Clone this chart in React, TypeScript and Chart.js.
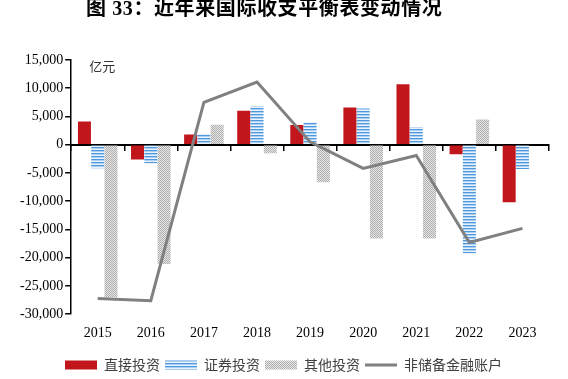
import React, { useEffect, useRef } from 'react';
import { Chart, registerables } from 'chart.js';

Chart.register(...registerables);

const categories = ['2015', '2016', '2017', '2018', '2019', '2020', '2021', '2022', '2023'];
const directInvestment = [4100, -2600, 1800, 6000, 3500, 6600, 10700, -1700, -10200];
const portfolioInvestment = [-4150, -3300, 1900, 6800, 4000, 6400, 3100, -19200, -4300];
const otherInvestment: (number | null)[] = [-27000, -21100, 3550, -1500, -6650, -16600, -16600, 4450, null];
const nonReserveAccount = [-27200, -27600, 7500, 11100, 500, -4200, -1900, -17300, -14800];
const seriesNames = ['直接投资', '证券投资', '其他投资', '非储备金融账户'];
const yMin = -30000;
const yMax = 15000;
const yStep = 5000;
const titleText = '图 33：近年来国际收支平衡表变动情况';
const unitText = '亿元';

function makeStripePattern(): CanvasPattern | string {
  const c = document.createElement('canvas');
  c.width = 4;
  c.height = 3;
  const g = c.getContext('2d');
  if (!g) return '#8fbde9';
  g.fillStyle = '#e8f2fb';
  g.fillRect(0, 0, 4, 3);
  g.fillStyle = '#4f98de';
  g.fillRect(0, 0, 4, 1);
  g.fillStyle = '#acd0f1';
  g.fillRect(0, 1, 4, 1);
  return g.createPattern(c, 'repeat') || '#8fbde9';
}

function makeHatchPattern(): CanvasPattern | string {
  const c = document.createElement('canvas');
  c.width = 2;
  c.height = 2;
  const g = c.getContext('2d');
  if (!g) return '#cccccc';
  g.fillStyle = '#e6e6e6';
  g.fillRect(0, 0, 2, 2);
  g.fillStyle = '#afafaf';
  g.fillRect(0, 0, 1, 1);
  g.fillRect(1, 1, 1, 1);
  return g.createPattern(c, 'repeat') || '#cccccc';
}

const unitPlugin = {
  id: 'unitLabel',
  afterDraw(chart: any) {
    const { ctx, chartArea } = chart;
    ctx.save();
    ctx.font = '13px "Noto Sans CJK SC"';
    ctx.fillStyle = '#333333';
    ctx.textBaseline = 'middle';
    ctx.textAlign = 'left';
    ctx.fillText(unitText, chartArea.left + 18, chartArea.top + 6);
    ctx.restore();
  },
};

export default function App() {
  const canvasRef = useRef<HTMLCanvasElement>(null);

  useEffect(() => {
    if (!canvasRef.current) return;
    const stripe = makeStripePattern();
    const hatch = makeHatchPattern();
    const tickFont = { family: '"Liberation Serif", "Times New Roman", serif', size: 14 };
    const chart = new Chart(canvasRef.current, {
      type: 'bar',
      data: {
        labels: categories,
        datasets: [
          {
            label: seriesNames[0],
            data: directInvestment,
            backgroundColor: '#c0161c',
            categoryPercentage: 0.75,
            barPercentage: 0.98,
            order: 1,
          },
          {
            label: seriesNames[1],
            data: portfolioInvestment,
            backgroundColor: stripe as any,
            categoryPercentage: 0.75,
            barPercentage: 0.98,
            order: 1,
          },
          {
            label: seriesNames[2],
            data: otherInvestment,
            backgroundColor: hatch as any,
            categoryPercentage: 0.75,
            barPercentage: 0.98,
            order: 1,
          },
          {
            type: 'line',
            label: seriesNames[3],
            data: nonReserveAccount,
            borderColor: '#808080',
            backgroundColor: '#808080',
            borderWidth: 3,
            pointRadius: 0,
            tension: 0,
            fill: false,
            order: -1,
          } as any,
        ],
      },
      options: {
        responsive: false,
        animation: false,
        events: [],
        layout: { padding: { top: 60, left: 18, right: 19, bottom: -3 } },
        scales: {
          x: {
            type: 'category',
            offset: true,
            grid: { display: false, drawTicks: false },
            border: { display: false },
            ticks: { font: tickFont, color: '#000000', padding: 11, maxRotation: 0 },
          },
          xZero: {
            type: 'category',
            axis: 'x',
            offset: true,
            position: { y: 0 } as any,
            z: 1,
            grid: { offset: true, drawOnChartArea: false, drawTicks: true, tickLength: 5, color: '#000000', lineWidth: 1.5 },
            border: { display: true, color: '#000000', width: 2 },
            ticks: { display: false },
          } as any,
          y: {
            min: yMin,
            max: yMax,
            grid: { drawOnChartArea: false, drawTicks: true, tickLength: 6, color: '#000000', lineWidth: 1.5 },
            border: { display: true, color: '#000000', width: 1.5 },
            ticks: {
              stepSize: yStep,
              font: tickFont,
              color: '#000000',
              padding: 2,
              callback: (v: any) => Number(v).toLocaleString('en-US'),
            },
          },
        },
        plugins: {
          title: { display: false },
          tooltip: { enabled: false },
          legend: {
            display: true,
            position: 'bottom',
            labels: {
              usePointStyle: true,
              pointStyleWidth: 32,
              boxWidth: 32,
              boxHeight: 9,
              padding: 5,
              color: '#404040',
              font: { family: '"Noto Sans CJK SC", sans-serif', size: 14 },
              generateLabels: (c: any) =>
                c.data.datasets.map((ds: any, i: number) => ({
                  text: ds.label,
                  fillStyle: i === 3 ? 'rgba(0,0,0,0)' : ds.backgroundColor,
                  strokeStyle: i === 3 ? '#808080' : 'rgba(0,0,0,0)',
                  lineWidth: i === 3 ? 3 : 0,
                  pointStyle: i === 3 ? 'line' : 'rect',
                  hidden: false,
                  datasetIndex: i,
                  fontColor: '#404040',
                })),
            },
          },
        },
      },
      plugins: [unitPlugin],
    });
    return () => chart.destroy();
  }, []);

  return (
    <div style={{ position: 'fixed', left: 0, top: 0, width: 568, height: 379, background: '#ffffff', overflow: 'hidden' }}>
      <div
        style={{
          position: 'absolute',
          left: 86,
          top: -2,
          whiteSpace: 'nowrap',
          font: 'bold 20px "Liberation Serif", "Noto Sans CJK SC", serif',
          letterSpacing: '0.6px',
          lineHeight: '20px',
          color: '#000000',
        }}
      >
        {titleText}
      </div>
      <canvas ref={canvasRef} width={568} height={379} style={{ display: 'block', width: 568, height: 379 }} />
    </div>
  );
}
